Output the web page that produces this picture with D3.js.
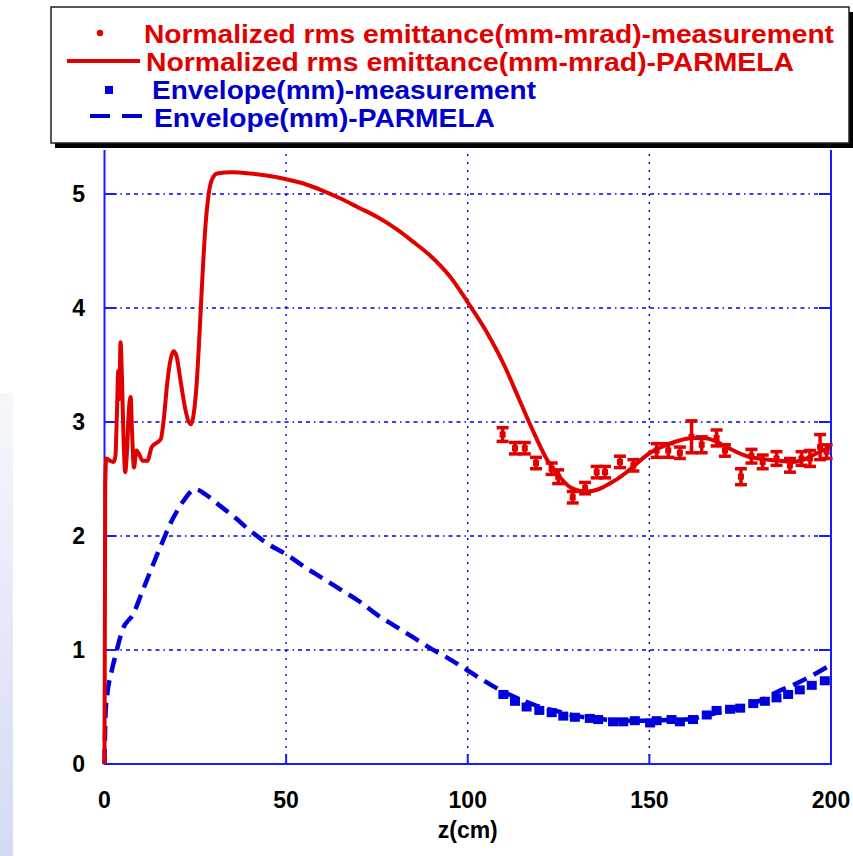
<!DOCTYPE html>
<html>
<head>
<meta charset="utf-8">
<script src="https://cdn.jsdelivr.net/npm/d3@7"></script>
<style>
  html, body { margin: 0; padding: 0; background: #ffffff; }
  svg { display: block; }
  text { font-family: "Liberation Sans", Arial, sans-serif; font-weight: bold; }
</style>
</head>
<body>
<svg id="chart" width="853" height="856"></svg>
<script>
// ---- data -------------------------------------------------------------
// PARMELA normalized rms emittance (mm-mrad) along z (cm)
const emitSimZ = [0, 0.2, 0.5, 1.5, 2.5, 3.0, 3.4, 3.8, 4.1, 4.4, 4.8, 5.2, 5.7, 6.2, 6.7, 7.2, 7.6, 8.1, 8.8, 9.5,
  10.5, 11.8, 13.0, 14.5, 15.5, 16.3, 17.3, 18.2, 19.0, 19.8, 21.0, 22.2, 23.2, 23.8, 24.6, 25.4, 26.2, 27.0, 27.8, 28.6,
  29.5, 31, 35, 40, 45, 50, 55, 60, 65, 70, 75, 80, 85, 90, 95, 100, 105, 110, 114, 118, 122, 125, 128.1, 132.7,
  136, 139.1, 142.5, 145.6, 150.2, 154.7, 158.5, 162, 165, 167.6, 171.3, 176.8, 182.3, 186, 189.6, 192.5, 195.1, 199.7];
const emitSimV = [0, 2.45, 2.68, 2.66, 2.65, 2.70, 3.05, 3.45, 3.20, 3.70, 3.40, 2.90, 2.56, 2.75, 3.10, 3.22, 2.90, 2.60, 2.75, 2.72,
  2.66, 2.66, 2.78, 2.82, 2.85, 3.02, 3.35, 3.55, 3.62, 3.58, 3.35, 3.12, 3.00, 2.98, 3.08, 3.35, 3.80, 4.30, 4.72, 4.98,
  5.12, 5.18, 5.19, 5.18, 5.16, 5.13, 5.09, 5.03, 4.96, 4.88, 4.80, 4.70, 4.58, 4.45, 4.28, 4.05, 3.80, 3.50, 3.21, 2.92,
  2.66, 2.53, 2.43, 2.39,
  2.41, 2.46, 2.53, 2.61, 2.73, 2.80, 2.84, 2.86, 2.86, 2.84, 2.78, 2.70, 2.67, 2.66, 2.65, 2.67, 2.71, 2.78];

// Measured emittance with error bars
const emitMeasZ = [109.6, 113, 115.7, 118.8, 123.1, 124.9, 128.9, 132.3, 135.5, 137.8, 141.9, 145.6, 152, 155.2,
  158.4, 161.6, 164.4, 168.5, 170.8, 175.2, 178.1, 181.2, 185, 188.7, 191.9, 194.2, 197, 198.8];
const emitMeasV = [2.89, 2.77, 2.77, 2.64, 2.59, 2.52, 2.34, 2.42, 2.56, 2.56, 2.65, 2.62, 2.75, 2.75,
  2.73, 2.87, 2.80, 2.86, 2.75, 2.52, 2.70, 2.65, 2.68, 2.62, 2.68, 2.68, 2.78, 2.74];
const emitMeasErr = [0.06, 0.05, 0.05, 0.05, 0.05, 0.06, 0.05, 0.05, 0.05, 0.05, 0.05, 0.05, 0.06, 0.06,
  0.05, 0.14, 0.07, 0.07, 0.05, 0.07, 0.06, 0.06, 0.06, 0.06, 0.06, 0.07, 0.11, 0.06];

// PARMELA beam envelope (mm)
const envSimZ = [0, 0.3, 0.8, 2, 3, 5, 8, 10, 12, 14, 16, 18, 20, 22, 25, 28, 32, 36, 40, 45, 50, 55, 60, 65, 70, 75,
  80, 85, 90, 95, 100, 105, 110, 115, 120, 125, 130, 135, 140, 145, 150, 155, 160, 165, 170, 175, 180, 185, 190, 195, 200];
const envSimV = [0, 0.45, 0.62, 0.82, 0.95, 1.18, 1.32, 1.48, 1.64, 1.80, 1.95, 2.10, 2.22, 2.32, 2.41, 2.36, 2.26, 2.16,
  2.05, 1.93, 1.84, 1.73, 1.63, 1.53, 1.43, 1.31, 1.21, 1.11, 1.01, 0.92, 0.82, 0.72, 0.63, 0.56, 0.50, 0.46, 0.42, 0.40,
  0.385, 0.38, 0.38, 0.385, 0.39, 0.42, 0.46, 0.50, 0.55, 0.63, 0.70, 0.78, 0.87];

// Measured envelope (mm)
const envMeasZ = [109.8, 113, 116.2, 119.7, 123.1, 126.3, 129.5, 133.6, 135.9, 140, 142.8, 146, 150.2, 152, 156.1,
  158.4, 162, 165.8, 168.5, 172.2, 175, 178.6, 181.8, 185, 188.2, 191.4, 194.7, 198.3];
const envMeasV = [0.61, 0.55, 0.50, 0.47, 0.45, 0.42, 0.41, 0.40, 0.39, 0.37, 0.37, 0.38, 0.36, 0.38, 0.39,
  0.37, 0.39, 0.43, 0.47, 0.48, 0.49, 0.53, 0.55, 0.58, 0.61, 0.65, 0.69, 0.73];

const xTicks = [0, 50, 100, 150, 200];
const yTicks = [0, 1, 2, 3, 4, 5];
const xLabel = "z(cm)";
const legendLabels = [
  "Normalized rms emittance(mm-mrad)-measurement",
  "Normalized rms emittance(mm-mrad)-PARMELA",
  "Envelope(mm)-measurement",
  "Envelope(mm)-PARMELA"
];

// ---- layout -----------------------------------------------------------
const RED = "#e00000", BLUE = "#0000dd", AXIS = "#1a1aff";
const plotTop = 150;
const svg = d3.select("#chart");

const x = d3.scaleLinear().domain([0, 200]).range([104.5, 831]);
const y = d3.scaleLinear().domain([0, 5]).range([764, 194]);

// side strip with a soft gradient
const defs = svg.append("defs");
const grad = defs.append("linearGradient").attr("id", "strip").attr("x1", 0).attr("y1", 0).attr("x2", 0).attr("y2", 1);
grad.append("stop").attr("offset", "0%").attr("stop-color", "#f6f7fd");
grad.append("stop").attr("offset", "100%").attr("stop-color", "#d3dbf4");
svg.append("rect").attr("x", 0).attr("y", 393).attr("width", 13).attr("height", 463).attr("fill", "url(#strip)");

// grid
const grid = svg.append("g");
grid.selectAll("line.h").data(yTicks.filter(d => d > 0)).join("line")
  .attr("x1", x(0)).attr("x2", x(200)).attr("y1", d => y(d)).attr("y2", d => y(d))
  .attr("stroke", BLUE).attr("stroke-width", 1.4).attr("stroke-dasharray", "4,4,4,4,1.5,4");
grid.selectAll("line.v").data(xTicks.filter(d => d > 0 && d < 200)).join("line")
  .attr("x1", d => x(d)).attr("x2", d => x(d)).attr("y1", y(0)).attr("y2", plotTop)
  .attr("stroke", BLUE).attr("stroke-width", 1.4).attr("stroke-dasharray", "2,6");

// inner ticks
const ticks = svg.append("g").attr("stroke", AXIS).attr("stroke-width", 2);
yTicks.forEach(d => {
  ticks.append("line").attr("x1", x(0)).attr("x2", x(0) + 12).attr("y1", y(d)).attr("y2", y(d));
  ticks.append("line").attr("x1", x(200)).attr("x2", x(200) - 12).attr("y1", y(d)).attr("y2", y(d));
});
xTicks.forEach(d => {
  ticks.append("line").attr("x1", x(d)).attr("x2", x(d)).attr("y1", y(0)).attr("y2", y(0) - 10);
});

// frame
svg.append("path")
  .attr("d", `M${x(0)},${plotTop}V${y(0)}H${x(200)}V${plotTop}`)
  .attr("fill", "none").attr("stroke", AXIS).attr("stroke-width", 2);

// envelope simulation (dashed)
const envLine = d3.line().x(d => x(d[0])).y(d => y(d[1])).curve(d3.curveMonotoneX);
svg.append("path")
  .datum(envSimZ.map((z, i) => [z, envSimV[i]]))
  .attr("d", envLine)
  .attr("fill", "none").attr("stroke", BLUE).attr("stroke-width", 4.5)
  .attr("stroke-dasharray", "15,8");

// envelope measurement squares
svg.append("g").selectAll("rect").data(envMeasZ.map((z, i) => [z, envMeasV[i]])).join("rect")
  .attr("x", d => x(d[0]) - 5).attr("y", d => y(d[1]) - 4.5)
  .attr("width", 10).attr("height", 9).attr("fill", BLUE);

// emittance simulation
const emitLine = d3.line().x(d => x(d[0])).y(d => y(d[1])).curve(d3.curveMonotoneX);
svg.append("path")
  .datum(emitSimZ.map((z, i) => [z, emitSimV[i]]))
  .attr("d", emitLine)
  .attr("fill", "none").attr("stroke", RED).attr("stroke-width", 4)
  .attr("stroke-linejoin", "round");

// emittance measurement with error bars
const eb = svg.append("g").attr("stroke", RED).attr("stroke-width", 3.5);
emitMeasZ.forEach((z, i) => {
  const cx = x(z), v = emitMeasV[i], e = emitMeasErr[i];
  const y1 = y(v + e), y2 = y(v - e);
  eb.append("line").attr("x1", cx).attr("x2", cx).attr("y1", y1).attr("y2", y2);
  eb.append("line").attr("x1", cx - 6).attr("x2", cx + 6).attr("y1", y1).attr("y2", y1);
  eb.append("line").attr("x1", cx - 6).attr("x2", cx + 6).attr("y1", y2).attr("y2", y2);
  eb.append("rect").attr("x", cx - 3).attr("y", y(v) - 3).attr("width", 6).attr("height", 6)
    .attr("fill", RED).attr("stroke", "none");
});

// axis labels
svg.append("g").selectAll("text").data(yTicks).join("text")
  .attr("x", 85).attr("y", d => y(d) + 8).attr("text-anchor", "end")
  .attr("font-size", 23).attr("fill", "#000").text(d => d);
svg.append("g").selectAll("text").data(xTicks).join("text")
  .attr("x", d => x(d)).attr("y", 808).attr("text-anchor", "middle")
  .attr("font-size", 23).attr("fill", "#000").text(d => d);
svg.append("text").attr("x", x(100)).attr("y", 838).attr("text-anchor", "middle")
  .attr("font-size", 23).attr("fill", "#000").text(xLabel);

// legend box with drop shadow
const lg = svg.append("g");
lg.append("rect").attr("x", 55).attr("y", 12).attr("width", 798).attr("height", 136).attr("fill", "#000");
lg.append("rect").attr("x", 51).attr("y", 7).attr("width", 798).attr("height", 136)
  .attr("fill", "#fff").attr("stroke", "#222").attr("stroke-width", 1.5);

// legend symbols
lg.append("circle").attr("cx", 100).attr("cy", 33).attr("r", 3.2).attr("fill", RED);
lg.append("line").attr("x1", 67).attr("x2", 140).attr("y1", 61).attr("y2", 61)
  .attr("stroke", RED).attr("stroke-width", 4);
lg.append("rect").attr("x", 105).attr("y", 86).attr("width", 8).attr("height", 8).attr("fill", BLUE);
lg.append("line").attr("x1", 90).attr("x2", 144).attr("y1", 116).attr("y2", 116)
  .attr("stroke", BLUE).attr("stroke-width", 4).attr("stroke-dasharray", "20,12");

// legend texts
const legendRows = [
  { x: 144, y: 43, w: 690, c: RED },
  { x: 146, y: 71, w: 648, c: RED },
  { x: 152, y: 99, w: 384, c: "#0000cc" },
  { x: 154, y: 127, w: 341, c: "#0000cc" }
];
legendRows.forEach((r, i) => {
  lg.append("text").attr("x", r.x).attr("y", r.y)
    .attr("font-size", 26).attr("fill", r.c)
    .attr("textLength", r.w).attr("lengthAdjust", "spacingAndGlyphs")
    .text(legendLabels[i]);
});
</script>
</body>
</html>
